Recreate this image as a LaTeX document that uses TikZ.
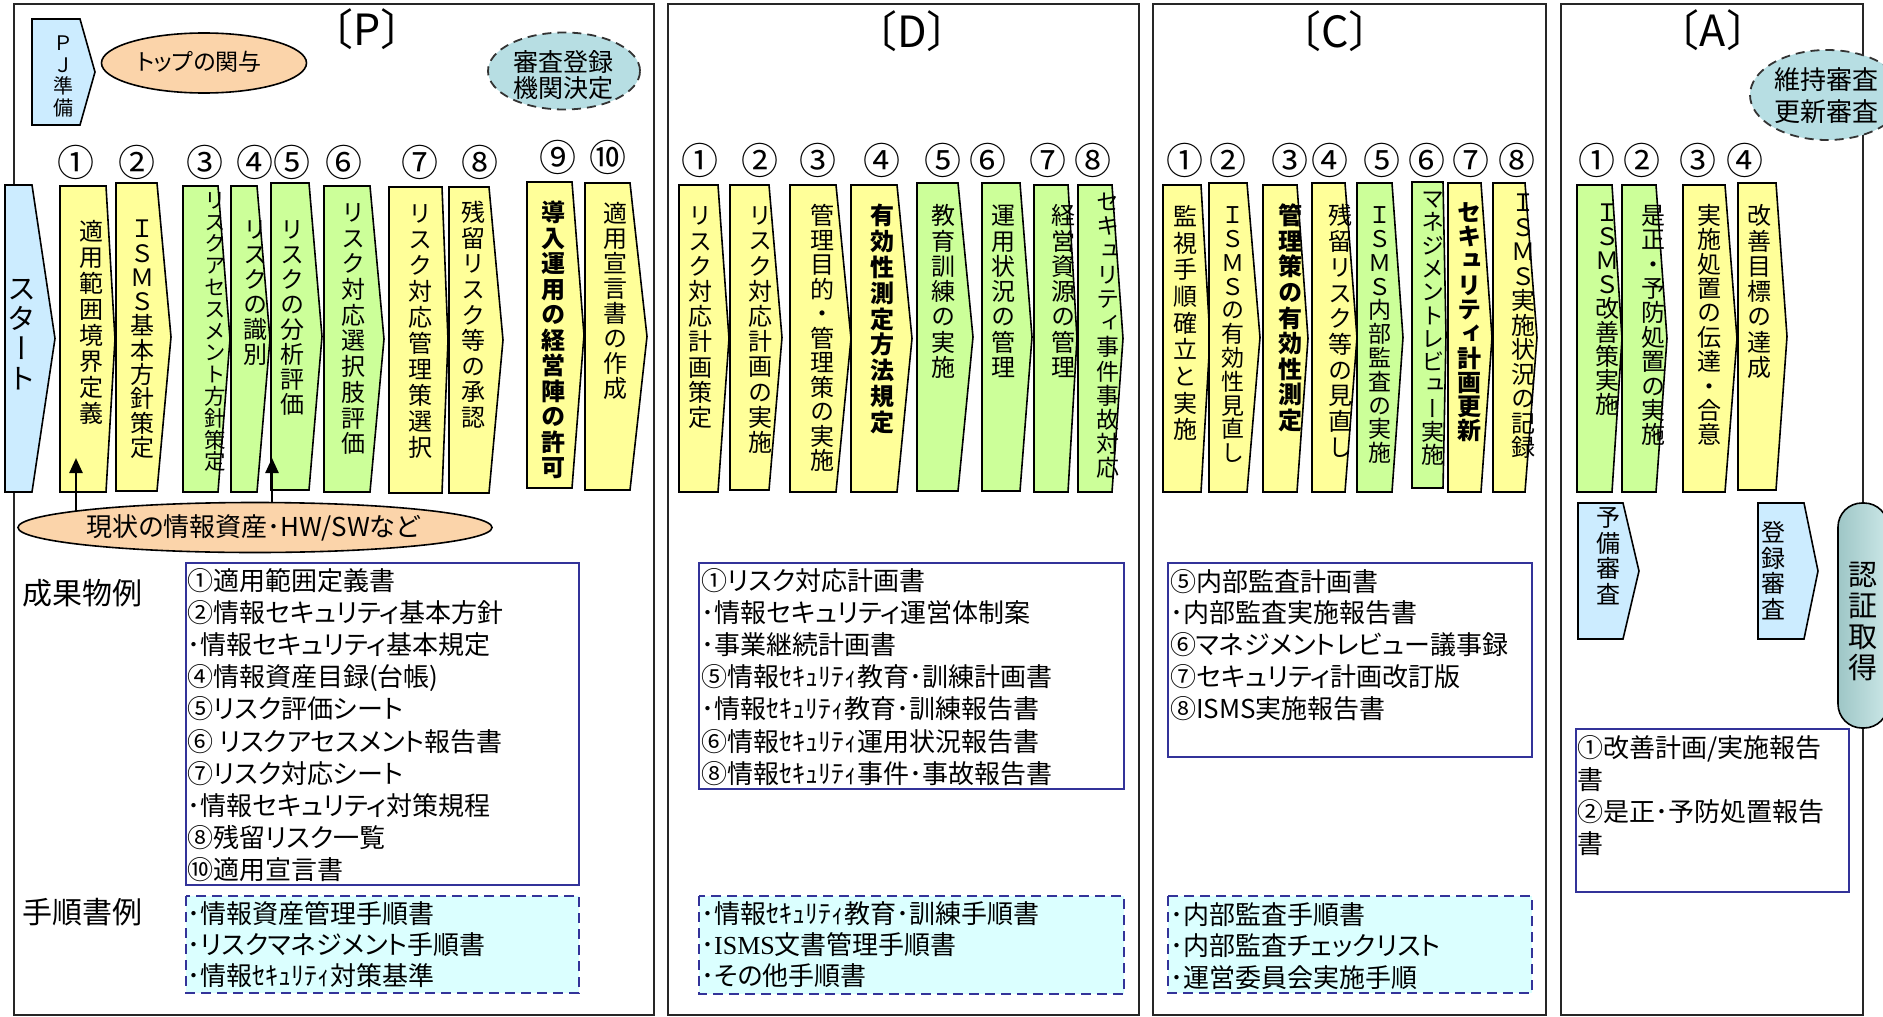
\documentclass[tikz,border=0pt]{standalone}
\usepackage{fontspec}
\usepackage{graphicx}
\setmainfont{Noto Sans CJK JP}[RawFeature=+palt]
\newfontfamily\vfont{Noto Sans CJK JP}[RawFeature=+vert]
\newfontfamily\nfont{Noto Sans CJK JP}
\newfontfamily\serifl{Liberation Serif}
\usetikzlibrary{shapes.geometric,arrows.meta}

\definecolor{yelF}{HTML}{FFFF99}
\definecolor{grnF}{HTML}{CCFF99}
\definecolor{bluF}{HTML}{CCECFF}
\definecolor{peach}{HTML}{FBD4AA}
\definecolor{tealF}{HTML}{B7DEE3}
\definecolor{cyanF}{HTML}{DBFFFF}
\definecolor{navy}{HTML}{333399}
\definecolor{certL}{HTML}{9EC6C6}
\definecolor{certR}{HTML}{CBE7E7}

\makeatletter
\newcommand\vst[2]{\vtop{\baselineskip=#1pt\lineskiplimit=-\maxdimen\lineskip=0pt
  \@tfor\vst@c:=#2\do{\hbox to 1.3em{\hss\vst@c\hss\vrule height .88em depth .12em width 0pt}}}}
\makeatother
\newcommand\vlist[2]{\vtop{\baselineskip=#1pt\lineskiplimit=-\maxdimen\lineskip=0pt #2}}
\newcommand\rowl[1]{\hbox{#1}}
\newcommand\pent[6]{\draw[#1] (#2,#5) -- (#3,#5) -- (#4,{(#5+#6)/2}) -- (#3,#6) -- (#2,#6) -- cycle;}

\tikzset{
 frm/.style={draw=black!85, line width=2pt},
 yb/.style={draw=black, line width=1.6pt, line join=miter, fill=yelF},
 gb/.style={draw=black, line width=1.6pt, line join=miter, fill=grnF},
 bb/.style={draw=black, line width=1.6pt, line join=miter, fill=bluF},
 vt/.style={inner sep=0pt, font=\vfont\fontsize{24pt}{24pt}\selectfont},
 vts/.style={inner sep=0pt, font=\vfont\fontsize{23pt}{23pt}\selectfont},
 vtb/.style={inner sep=0pt, font=\vfont\bfseries\fontsize{24pt}{24pt}\selectfont},
 num/.style={inner sep=0pt, anchor=base, font=\nfont\fontsize{37pt}{37pt}\selectfont},
 ttl/.style={inner sep=0pt, anchor=base, font=\nfont\fontsize{43pt}{43pt}\selectfont},
 lst/.style={inner sep=0pt, anchor=base west, font=\fontsize{26pt}{32pt}\selectfont},
 hdr/.style={inner sep=0pt, anchor=base west, font=\nfont\fontsize{30pt}{30pt}\selectfont},
 lbox/.style={draw=navy, line width=2pt},
 mbox/.style={draw=navy, line width=2pt, dash pattern=on 10pt off 6pt, fill=cyanF},
 arr/.style={draw=black, line width=2.5pt, -{Triangle[length=15pt,width=13pt]}},
 dell/.style={ellipse, draw=black!80, line width=1.8pt, dash pattern=on 9pt off 6pt, fill=tealF, inner sep=0pt},
 pell/.style={ellipse, draw=black, line width=1.6pt, fill=peach, inner sep=0pt},
}

\begin{document}
\begin{tikzpicture}[x=1pt,y=-1pt]
\useasboundingbox (0,0) rectangle (1883,1017);

% ---------- frames ----------
\draw[frm] (14,4) rectangle (654,1015);
\draw[frm] (668,4) rectangle (1139,1015);
\draw[frm] (1153,4) rectangle (1546,1015);
\draw[frm] (1561,4) rectangle (1863,1015);

% ---------- titles ----------
\node[ttl] (tP) at (367,45) {〔P〕};
\node[ttl] (tD) at (912,47) {〔D〕};
\node[ttl] (tC) at (1335,47) {〔C〕};
\node[ttl] (tA) at (1713,46) {〔A〕};

% ---------- P top ----------
\pent{bb}{32}{80}{95}{19}{125}
\node[vt, font=\vfont\fontsize{20pt}{20pt}\selectfont] (pjT) at (63,75.5) {\vst{21.5}{ＰＪ準備}};
\node[pell, minimum width=205pt, minimum height=60pt] (topinv) at (204,63) {};
\node[inner sep=0pt, font=\fontsize{23pt}{23pt}\selectfont] (topinvT) at (199,62) {トップの関与};
\node[dell, minimum width=152pt, minimum height=77pt] (regbody) at (564,71) {};
\node[inner sep=0pt, align=center, font=\nfont\fontsize{25pt}{26pt}\selectfont] (regbodyT) at (563,75) {審査登録\\機関決定};

% ---------- A top ellipse ----------
\node[dell, minimum width=154pt, minimum height=90pt] (maint) at (1827,95) {};
\node[inner sep=0pt, align=center, font=\nfont\fontsize{26pt}{32pt}\selectfont] (maintT) at (1826,96) {維持審査\\更新審査};

% ---------- P boxes ----------
\pent{bb}{5}{32}{55}{185}{492}
\pent{yb}{60}{106}{115}{186}{492}
\pent{yb}{116}{157}{171}{183}{491}
\pent{gb}{183}{218}{230}{186}{492}
\pent{gb}{231}{257}{270}{186}{492}
\pent{gb}{271}{309}{322}{183}{490}
\pent{gb}{324}{370}{384}{186}{492}
\pent{yb}{389}{442}{448}{187}{493}
\pent{yb}{449}{489}{503}{187}{493}
\pent{yb}{527}{572}{584}{182}{488}
\pent{yb}{585}{630}{647}{183}{490}

% ---------- D boxes ----------
\pent{yb}{679}{718}{729}{185}{492}
\pent{yb}{730}{769}{782}{185}{490}
\pent{yb}{790}{836}{851}{185}{492}
\pent{yb}{851}{897}{912}{185}{492}
\pent{gb}{917}{958}{973}{183}{491}
\pent{gb}{982}{1020}{1032}{183}{491}
\pent{gb}{1034}{1068}{1077}{185}{492}
\pent{gb}{1078}{1112}{1123}{185}{492}

% ---------- C boxes ----------
\pent{yb}{1163}{1201}{1210}{185}{492}
\pent{yb}{1209}{1247}{1260}{183}{492}
\pent{yb}{1263}{1297}{1308}{185}{492}
\pent{yb}{1312}{1345}{1357}{183}{492}
\pent{gb}{1357}{1392}{1403}{183}{492}
\pent{gb}{1412}{1443}{1446}{182}{488}
\pent{yb}{1448}{1481}{1492}{183}{492}
\pent{yb}{1493}{1525}{1537}{183}{492}

% ---------- A boxes ----------
\pent{gb}{1577}{1612}{1622}{185}{492}
\pent{gb}{1622}{1656}{1667}{185}{492}
\pent{yb}{1683}{1725}{1737}{185}{492}
\pent{yb}{1738}{1776}{1787}{183}{490}

\pent{bb}{1578}{1623}{1639}{503}{639}
\pent{bb}{1758}{1804}{1818}{503}{639}
\node[draw=black, line width=1.6pt, rounded corners=24pt, minimum width=50pt, minimum height=225pt, left color=certL, right color=certR, inner sep=0pt] (cert) at (1863,615.5) {};

% ---------- numbers ----------
\node[num] (pn1) at (76,176) {①};
\node[num] (pn2) at (137,176) {②};
\node[num] (pn3) at (205,176) {③};
\node[num] (pn4) at (255,176) {④};
\node[num] (pn5) at (292,176) {⑤};
\node[num] (pn6) at (344,176) {⑥};
\node[num] (pn7) at (420,176) {⑦};
\node[num] (pn8) at (480,176) {⑧};
\node[num] (pn9) at (558,171) {⑨};
\node[num] (pn10) at (608,171) {⑩};

\node[num] (dn1) at (700,174) {①};
\node[num] (dn2) at (760,174) {②};
\node[num] (dn3) at (818,174) {③};
\node[num] (dn4) at (882,174) {④};
\node[num] (dn5) at (943,174) {⑤};
\node[num] (dn6) at (988,174) {⑥};
\node[num] (dn7) at (1048,174) {⑦};
\node[num] (dn8) at (1093,174) {⑧};

\node[num] (cn1) at (1185,174) {①};
\node[num] (cn2) at (1228,174) {②};
\node[num] (cn3) at (1290,174) {③};
\node[num] (cn4) at (1330,174) {④};
\node[num] (cn5) at (1382,174) {⑤};
\node[num] (cn6) at (1427,174) {⑥};
\node[num] (cn7) at (1471,174) {⑦};
\node[num] (cn8) at (1517,174) {⑧};

\node[num] (an1) at (1597,174) {①};
\node[num] (an2) at (1642,174) {②};
\node[num] (an3) at (1698,174) {③};
\node[num] (an4) at (1745,174) {④};

% ---------- vertical texts P ----------
\node[vt, font=\vfont\fontsize{29pt}{29pt}\selectfont] (startT) at (22,333) {\vst{30}{スタート}};
\node[vt] (p1T) at (91,322) {\vst{26}{適用範囲境界定義}};
\node[vt] (p2T) at (142,338) {\vst{24.3}{ＩＳＭＳ基本方針策定}};
\node[vt, font=\vfont\fontsize{21.5pt}{21.5pt}\selectfont] (p3T) at (215,331) {\vst{21.8}{リスクアセスメント方針策定}};
\node[vt] (p4T) at (255,292) {\vst{25}{リスクの識別}};
\node[vt] (p5T) at (292,317) {\vst{25}{リスクの分析評価}};
\node[vt] (p6T) at (353,328) {\vst{25.7}{リスク対応選択肢評価}};
\node[vt] (p7T) at (420,330) {\vst{26}{リスク対応管理策選択}};
\node[vt] (p8T) at (473,315) {\vst{25.6}{残留リスク等の承認}};
\node[vtb] (p9T) at (553,340) {\vst{25.5}{導入運用の経営陣の許可}};
\node[vt] (p10T) at (615,301) {\vst{25}{適用宣言書の作成}};

% ---------- vertical texts D ----------
\node[vt] (d1T) at (700,316.5) {\vst{25.2}{リスク対応計画策定}};
\node[vt] (d2T) at (760,329) {\vst{25.2}{リスク対応計画の実施}};
\node[vt] (d3T) at (822,338) {\vst{24.5}{管理目的・管理策の実施}};
\node[vtb] (d4T) at (882,319) {\vst{25.8}{有効性測定方法規定}};
\node[vt] (d5T) at (943,291.5) {\vst{25.3}{教育訓練の実施}};
\node[vt] (d6T) at (1003,291.5) {\vst{25.3}{運用状況の管理}};
\node[vt] (d7T) at (1063,291.5) {\vst{25.3}{経営資源の管理}};
\node[vts] (d8T) at (1108,335) {\vst{24.2}{セキュリティ事件事故対応}};

% ---------- vertical texts C ----------
\node[vt] (c1T) at (1185,323) {\vst{26.7}{監視手順確立と実施}};
\node[vts] (c2T) at (1233,334) {\vst{23.8}{ＩＳＭＳの有効性見直し}};
\node[vtb] (c3T) at (1290,318) {\vst{25.6}{管理策の有効性測定}};
\node[vt] (c4T) at (1340,331.5) {\vst{25.7}{残留リスク等の見直し}};
\node[vts] (c5T) at (1380,334) {\vst{23.8}{ＩＳＭＳ内部監査の実施}};
\node[vts] (c6T) at (1433,327) {\vst{23.3}{マネジメントレビュー実施}};
\node[vtb] (c7T) at (1469,321.5) {\vst{24.3}{セキュリティ計画更新}};
\node[vt] (c8T) at (1523,325) {\vst{24.5}{ＩＳＭＳ実施状況の記録}};

% ---------- vertical texts A ----------
\node[vt] (a1T) at (1607,308.5) {\vst{24}{ＩＳＭＳ改善策実施}};
\node[vt] (a2T) at (1653,325) {\vst{24.4}{是正・予防処置の実施}};
\node[vt] (a3T) at (1709,325) {\vst{24.4}{実施処置の伝達・合意}};
\node[vt] (a4T) at (1759,291.5) {\vst{25.3}{改善目標の達成}};
\node[vt] (prevT) at (1608,556) {\vst{25.5}{予備審査}};
\node[vt] (regT) at (1773,571) {\vst{25.5}{登録審査}};
\node[vt, font=\vfont\fontsize{29pt}{29pt}\selectfont] (certT) at (1863,621) {\vst{31}{認証取得}};

% ---------- arrows and assets ellipse ----------
\coordinate (ar1s) at (76,527);
\coordinate (ar1e) at (76,458);
\coordinate (ar2s) at (272,527);
\coordinate (ar2e) at (272,458);
\draw[arr] (ar1s) -- (ar1e);
\draw[arr] (ar2s) -- (ar2e);
\node[pell, minimum width=474pt, minimum height=50pt] (assets) at (255,527.5) {};
\node[inner sep=0pt, font=\fontsize{26pt}{26pt}\selectfont] (assetsT) at (253,528) {現状の情報資産･HW/SWなど};

% ---------- headers ----------
\node[hdr] (hOut) at (22,604) {成果物例};
\node[hdr] (hProc) at (22,923) {手順書例};

% ---------- list boxes ----------
\draw[lbox] (186,563) rectangle (579,885);
\draw[mbox] (186,896) rectangle (579,993);
\draw[lbox] (699,563) rectangle (1124,789);
\draw[mbox] (699,896) rectangle (1124,994);
\draw[lbox] (1168,563) rectangle (1532,757);
\draw[mbox] (1168,896) rectangle (1532,993);
\draw[lbox] (1576,729) rectangle (1849,892);

\node[lst] (pOut) at (187,590) {\vlist{32.2}{%
 \rowl{①適用範囲定義書}\rowl{②情報セキュリティ基本方針}\rowl{･情報セキュリティ基本規定}%
 \rowl{④情報資産目録(台帳)}\rowl{⑤リスク評価シート}\rowl{⑥ リスクアセスメント報告書}%
 \rowl{⑦リスク対応シート}\rowl{･情報セキュリティ対策規程}\rowl{⑧残留リスク一覧}\rowl{⑩適用宣言書}}};
\node[lst] (pProc) at (187,923) {\vlist{31}{%
 \rowl{･情報資産管理手順書}\rowl{･リスクマネジメント手順書}\rowl{･情報ｾｷｭﾘﾃｨ対策基準}}};

\node[lst] (dOut) at (701,590) {\vlist{32.2}{%
 \rowl{①リスク対応計画書}\rowl{･情報セキュリティ運営体制案}\rowl{･事業継続計画書}%
 \rowl{⑤情報ｾｷｭﾘﾃｨ教育･訓練計画書}\rowl{･情報ｾｷｭﾘﾃｨ教育･訓練報告書}%
 \rowl{⑥情報ｾｷｭﾘﾃｨ運用状況報告書}\rowl{⑧情報ｾｷｭﾘﾃｨ事件･事故報告書}}};
\node[lst] (dProc) at (701,923) {\vlist{31}{%
 \rowl{･情報ｾｷｭﾘﾃｨ教育･訓練手順書}\rowl{･{\serifl ISMS}文書管理手順書}\rowl{･その他手順書}}};

\node[lst] (cOut) at (1170,591) {\vlist{31.75}{%
 \rowl{⑤内部監査計画書}\rowl{･内部監査実施報告書}\rowl{⑥マネジメントレビュー議事録}%
 \rowl{⑦セキュリティ計画改訂版}\rowl{⑧ISMS実施報告書}}};
\node[lst] (cProc) at (1170,924) {\vlist{31.5}{%
 \rowl{･内部監査手順書}\rowl{･内部監査チェックリスト}\rowl{･運営委員会実施手順}}};

\node[lst] (aOut) at (1577,757) {\vlist{32}{%
 \rowl{①改善計画/実施報告}\rowl{書}\rowl{②是正･予防処置報告}\rowl{書}}};

\end{tikzpicture}
\end{document}
